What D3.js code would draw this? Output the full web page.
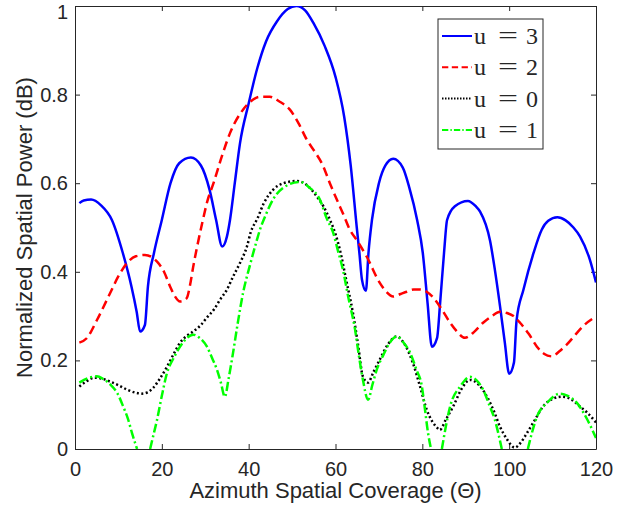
<!DOCTYPE html>
<html>
<head>
<meta charset="utf-8">
<script src="https://cdn.jsdelivr.net/npm/d3@7"></script>
<style>
  body { margin: 0; background: #fff; }
  text { font-family: "Liberation Sans", Arial, sans-serif; fill: #262626; }
</style>
</head>
<body>
<div id="chart"></div>
<script>
// Series data: [azimuth, normalized power]
// null marks where a curve drops below the axis floor
var u3 = [[1,0.555],[2,0.561],[3.7,0.563],[6,0.55],[8.5,0.517],[11,0.443],[13,0.367],[14.2,0.31],[15,0.265],[16.1,0.28],
  [16.8,0.367],[18.2,0.443],[20,0.517],[22,0.6],[24,0.645],[26.7,0.658],[29,0.64],[31,0.585],[32.5,0.517],[33.9,0.457],
  [35,0.48],[35.7,0.517],[36.8,0.6],[38,0.69],[40,0.78],[42,0.86],[44,0.92],[46.5,0.965],[49,0.993],[51,1.0],
  [53,0.99],[55,0.96],[57.5,0.91],[60,0.84],[62,0.75],[63.5,0.64],[64.9,0.5],[65.5,0.443],[66.1,0.382],[67,0.357],
  [67.6,0.443],[68.4,0.517],[70,0.6],[71.5,0.64],[73.3,0.655],[75.5,0.635],[77,0.59],[78.8,0.517],[80.1,0.443],[81.2,0.33],
  [82.2,0.231],[83.4,0.251],[84.1,0.33],[85,0.443],[85.7,0.517],[87.5,0.548],[90.5,0.56],[92.3,0.548],[93.3,0.536],[95.6,0.47],
  [96.7,0.405],[97.9,0.322],[99,0.24],[100,0.17],[101.1,0.195],[101.7,0.29],[103.3,0.36],[105.6,0.442],[107.5,0.495],[109,0.515],
  [111.1,0.523],[113,0.516],[114.8,0.5],[116.3,0.48],[118.6,0.427],[120,0.376]];

var u2 = [[1,0.24],[2.7,0.25],[5,0.29],[8.1,0.352],[10,0.39],[12,0.42],[14,0.435],[16.1,0.438],[18.9,0.423],[20.5,0.4],
  [21.9,0.367],[23,0.345],[24.2,0.333],[25.7,0.34],[26.5,0.37],[27.2,0.41],[28.2,0.46],[29.3,0.51],[30.5,0.56],[31.9,0.6],
  [33.8,0.66],[35.7,0.713],[38.7,0.766],[40.5,0.785],[42.6,0.795],[44.9,0.795],[47,0.785],[49.5,0.766],[51.5,0.735],[53.4,0.698],
  [55.3,0.67],[57.1,0.64],[58.7,0.6],[60.3,0.563],[61.8,0.53],[63.3,0.495],[65,0.47],[67.2,0.434],[70.2,0.375],[71.7,0.355],
  [73.3,0.344],[75,0.35],[76.4,0.355],[78,0.36],[79.5,0.36],[81,0.355],[82.5,0.342],[84.5,0.315],[86.4,0.285],[88,0.265],
  [89.8,0.251],[92,0.265],[94,0.285],[96,0.3],[97.9,0.31],[99.5,0.307],[101,0.3],[102.5,0.285],[104.5,0.26],[106.4,0.231],
  [108,0.215],[109.9,0.209],[111.5,0.22],[113.3,0.236],[115,0.255],[117,0.277],[120,0.299]];

var u0 = [[1,0.141],[2.5,0.152],[4.6,0.161],[6.5,0.158],[8.1,0.152],[10,0.144],[12,0.134],[14,0.127],[15.4,0.125],[16.7,0.128],
  [18,0.138],[19.5,0.158],[21.2,0.186],[22.7,0.214],[24.2,0.24],[25.7,0.255],[27.2,0.265],[29,0.28],[30.4,0.297],[32,0.315],
  [33.4,0.337],[35,0.36],[36.4,0.389],[38,0.42],[39.6,0.457],[40.5,0.49],[42,0.52],[43.5,0.555],[45.6,0.585],[48,0.6],
  [51.1,0.605],[53.5,0.595],[55.7,0.57],[57.2,0.548],[58.7,0.518],[60,0.485],[61,0.45],[62.5,0.38],[64,0.308],[65.2,0.235],
  [66.3,0.164],[67.5,0.15],[68.8,0.175],[70.2,0.202],[72,0.235],[74.1,0.254],[76,0.235],[77.8,0.195],[79.5,0.14],[81,0.089],
  [82.3,0.062],[83.4,0.048],[84,0.043],[85.5,0.068],[87.1,0.096],[89,0.135],[91,0.156],[93,0.145],[94.9,0.118],[96.5,0.085],
  [97.9,0.05],[99.5,0.022],[101.3,0.003],[102.7,0.015],[104.1,0.036],[106,0.067],[107.8,0.096],[110,0.113],[112.2,0.118],[114.3,0.112],
  [116.3,0.096],[118,0.082],[120,0.06]];

var u1 = [[1,0.15],[3,0.16],[5,0.164],[6.5,0.158],[8.1,0.146],[9.8,0.125],[11.1,0.096],[12.2,0.068],[13.1,0.037],[14.3,0],
  null,[17.3,0],[18.1,0.033],[18.9,0.066],[20,0.12],[21.2,0.172],[22.7,0.205],[24.2,0.231],[25.7,0.25],[27.2,0.258],
  [28.8,0.25],[30.4,0.231],[31.6,0.205],[32.7,0.179],[33.6,0.15],[34.5,0.118],[35.4,0.16],[36.4,0.217],[37.5,0.285],[38.7,0.352],
  [40.3,0.415],[41.9,0.472],[42.6,0.495],[44,0.53],[45.6,0.563],[48,0.59],[51.8,0.603],[54,0.59],[56.4,0.563],[58,0.52],
  [59.4,0.49],[60.5,0.45],[61.7,0.405],[63,0.34],[64.5,0.27],[65.4,0.21],[66.3,0.157],[67.5,0.111],[68.5,0.145],[69.5,0.179],
  [71,0.212],[72.5,0.24],[74.1,0.254],[75.7,0.24],[77.2,0.217],[78.6,0.18],[79.9,0.141],[80.6,0.09],[81.3,0.037],[82,0],
  null,[84.5,0],[85.4,0.05],[86.4,0.096],[88.7,0.141],[91,0.163],[92.5,0.155],[94,0.134],[95.4,0.1],[96.7,0.066],[98.3,0],
  null,[104.3,0],[105.2,0.035],[106.4,0.073],[108.7,0.104],[111.7,0.125],[113.5,0.12],[115.6,0.104],[117.8,0.07],[120,0.025]];

var legendNames = ["3", "2", "0", "1"];
var xTicks = [0, 20, 40, 60, 80, 100, 120];
var yTicks = [0, 0.2, 0.4, 0.6, 0.8, 1];

// SVG area and margins
var svgWidth = 635;
var svgHeight = 514;
var margin = { top: 6, right: 39, bottom: 65, left: 75 };
var chartWidth = svgWidth - margin.left - margin.right;
var chartHeight = svgHeight - margin.top - margin.bottom;

var svg = d3.select("#chart")
  .append("svg")
  .attr("width", svgWidth)
  .attr("height", svgHeight);

var chartGroup = svg.append("g")
  .attr("transform", `translate(${margin.left}, ${margin.top})`);

svg.append("defs").append("clipPath")
  .attr("id", "plotClip")
  .append("rect")
  .attr("x", 0).attr("y", 0)
  .attr("width", chartWidth).attr("height", chartHeight);

// Scales
var xScale = d3.scaleLinear().domain([0, 120]).range([0, chartWidth]);
var yScale = d3.scaleLinear().domain([0, 1]).range([chartHeight, 0]);

// Axes, ticks pointing inward on all four sides (box on)
var fmt = d3.format("~g");
function styleAxis(g) {
  g.selectAll("path, line").attr("stroke", "#262626");
  g.selectAll("text").style("font-size", "20px").attr("fill", "#262626");
}

chartGroup.append("g")
  .attr("transform", `translate(0, ${chartHeight})`)
  .call(d3.axisBottom(xScale).tickValues(xTicks).tickFormat(fmt).tickSizeInner(-5).tickSizeOuter(0).tickPadding(13))
  .call(styleAxis);

var yAxisG = chartGroup.append("g")
  .call(d3.axisLeft(yScale).tickValues(yTicks).tickFormat(fmt).tickSizeInner(-5).tickSizeOuter(0).tickPadding(7))
  .call(styleAxis);
// top label sits against the window edge, nudge it down so it stays whole
yAxisG.selectAll(".tick text").filter(d => d === 1).attr("y", 6);

chartGroup.append("g")
  .call(d3.axisTop(xScale).tickValues(xTicks).tickFormat("").tickSizeInner(-5).tickSizeOuter(0))
  .call(styleAxis);

chartGroup.append("g")
  .attr("transform", `translate(${chartWidth}, 0)`)
  .call(d3.axisRight(yScale).tickValues(yTicks).tickFormat("").tickSizeInner(-5).tickSizeOuter(0))
  .call(styleAxis);

// Axis labels
svg.append("text")
  .attr("x", margin.left + chartWidth / 2)
  .attr("y", 498)
  .attr("text-anchor", "middle")
  .style("font-size", "22px")
  .text("Azimuth Spatial Coverage (\u0398)");

svg.append("text")
  .attr("transform", `translate(32, ${margin.top + chartHeight / 2}) rotate(-90)`)
  .attr("text-anchor", "middle")
  .style("font-size", "22px")
  .text("Normalized Spatial Power (dB)");

// Lines
var lineGen = d3.line()
  .defined(d => d !== null)
  .x(d => xScale(d[0]))
  .y(d => yScale(d[1]))
  .curve(d3.curveMonotoneX);

var series = [
  { data: u3, color: "#0000ff", dash: null },
  { data: u2, color: "#ff0000", dash: "9,5" },
  { data: u0, color: "#000000", dash: "2,2.5" },
  { data: u1, color: "#00ff00", dash: "9,3,2,3" }
];

var lineGroup = chartGroup.append("g").attr("clip-path", "url(#plotClip)");
series.forEach(function(s) {
  lineGroup.append("path")
    .attr("d", lineGen(s.data))
    .attr("fill", "none")
    .attr("stroke", s.color)
    .attr("stroke-width", 2.5)
    .attr("stroke-dasharray", s.dash);
});

// Legend
var legend = svg.append("g").attr("transform", "translate(438, 19)");
legend.append("rect")
  .attr("width", 105).attr("height", 130)
  .attr("fill", "#fff").attr("stroke", "#262626").attr("stroke-width", 1);

series.forEach(function(s, i) {
  var y = 17 + i * 31.3;
  legend.append("line")
    .attr("x1", 4).attr("x2", 34).attr("y1", y).attr("y2", y)
    .attr("stroke", s.color).attr("stroke-width", 2)
    .attr("stroke-dasharray", s.dash ? (i === 2 ? "1.5,1.5" : s.dash.split(",").map(v => v * 0.7).join(",")) : null);
  var row = legend.append("g").attr("transform", `translate(0, ${y + 8})`)
    .style("font-family", "'Liberation Serif', 'DejaVu Serif', serif")
    .style("font-size", "24px");
  row.append("text").attr("x", 36).text("u").style("font-family", "inherit");
  row.append("text").attr("x", 60).attr("y", -1).text("=")
    .attr("textLength", 20).attr("lengthAdjust", "spacingAndGlyphs").style("font-family", "inherit");
  row.append("text").attr("x", 88).text(legendNames[i]).style("font-family", "inherit");
});
</script>
</body>
</html>
